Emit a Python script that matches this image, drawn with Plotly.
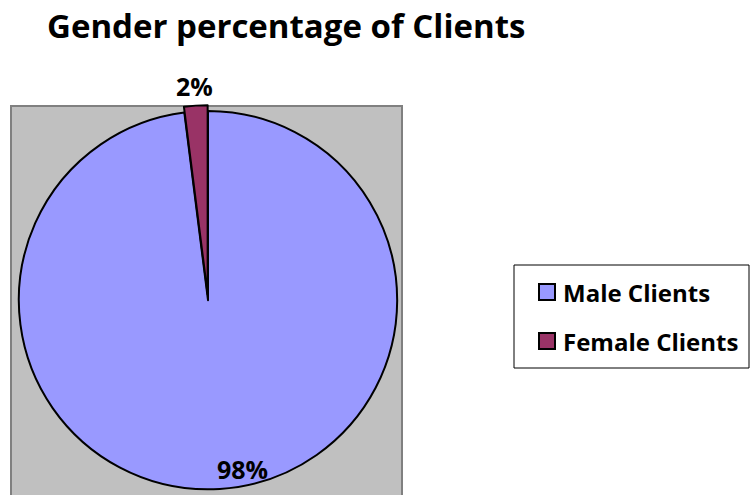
import plotly.graph_objects as go

labels = ["Male Clients", "Female Clients"]
values = [98, 2]
colors = ["#9999FF", "#993366"]
pulls = [0, 0.03]

W, H = 750, 495
cx, cy, r = 208, 301, 190
pmax = max(pulls)
S = 2 * r * (1 + pmax)

def px(x):
    return x / W

def py(y):
    return 1 - y / H

fig = go.Figure()
fig.add_trace(go.Pie(
    labels=labels, values=values, sort=False, direction="clockwise", rotation=0,
    marker=dict(colors=colors, line=dict(color="black", width=2)),
    pull=pulls, textinfo="none", hoverinfo="label+percent", showlegend=False,
    domain=dict(x=[px(cx - S / 2), px(cx + S / 2)],
                y=[max(0, py(cy + S / 2)), min(1, py(cy - S / 2))]),
))

total = sum(values)
pct = [f"{round(v * 100 / total)}%" for v in values]
label_pos = [(242, 469), (194, 86)]
for t, (x, y) in zip(pct, label_pos):
    fig.add_annotation(x=px(x), y=py(y), xref="paper", yref="paper", xanchor="center", yanchor="middle",
                       text=t, showarrow=False,
                       font=dict(size=25, color="black", family="Open Sans", weight="bold"))

# plot area background
fig.add_shape(type="rect", xref="paper", yref="paper", x0=px(11), x1=px(402), y0=-0.05, y1=py(106),
              fillcolor="#C0C0C0", line=dict(color="#808080", width=2), layer="below")

# legend box
lx0, ly0, lx1, ly1 = 514, 265, 749, 368
fig.add_shape(type="rect", xref="paper", yref="paper", x0=px(lx0), x1=px(lx1), y0=py(ly1), y1=py(ly0),
              fillcolor="white", line=dict(color="black", width=1), layer="below")
item_y = [292, 341]
for lab, col, yy in zip(labels, colors, item_y):
    fig.add_shape(type="rect", xref="paper", yref="paper", x0=px(539), x1=px(555), y0=py(yy + 8), y1=py(yy - 8),
                  fillcolor=col, line=dict(color="black", width=2))
    fig.add_annotation(x=px(561), y=py(yy), xref="paper", yref="paper", xanchor="left", yanchor="middle",
                       text=lab, showarrow=False,
                       font=dict(size=24, color="black", family="Open Sans", weight="bold"))

fig.update_layout(
    width=W, height=H, margin=dict(l=0, r=0, t=0, b=0),
    paper_bgcolor="white", plot_bgcolor="white",
    title=dict(text="Gender percentage of Clients", x=px(47), xanchor="left", y=py(26), yanchor="middle",
               font=dict(size=33, color="black", family="Open Sans", weight="bold")),
    showlegend=False,
)
fig.write_html("out.html", config={"displayModeBar": False},
               post_script="document.body.style.margin='0px';")
